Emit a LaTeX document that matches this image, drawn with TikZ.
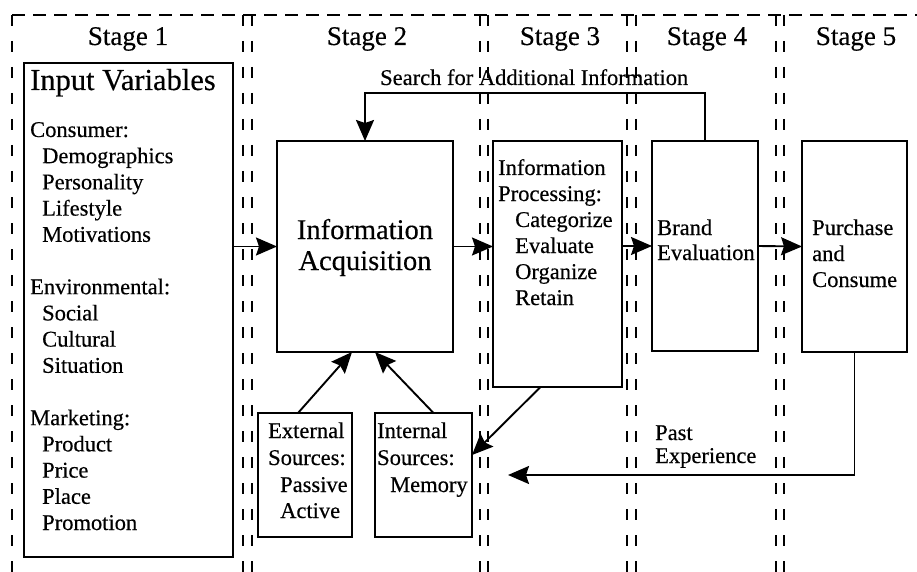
\documentclass[tikz,border=0pt]{standalone}
\usepackage{fontspec}
\setmainfont{Liberation Serif}[FakeBold=0.35]
\usetikzlibrary{arrows.meta}
\begin{document}
\begin{tikzpicture}[x=1pt,y=-1pt,
  box/.style={draw, line width=2.1pt, inner sep=0pt, outer sep=0pt, anchor=north west},
  txt/.style={anchor=base west, inner sep=0pt, font=\fontsize{22.5}{26}\selectfont},
  bigtxt/.style={anchor=base, inner sep=0pt, font=\fontsize{28.5}{32}\selectfont},
  stagelbl/.style={anchor=base, inner sep=0pt, font=\fontsize{27}{30}\selectfont},
  vdash/.style={line width=1.8pt, dash pattern=on 11pt off 15pt},
  hdash/.style={line width=1.8pt, dash pattern=on 13pt off 8pt},
  arr/.style={line width=1.9pt, -{Stealth[length=21pt,width=18pt,inset=3pt]}}]
\useasboundingbox (0,0) rectangle (917,572);
\fill[white] (0,0) rectangle (917,572);

% stage frames
\draw[hdash] (12,15) -- (917,15);
\foreach \x in {12,243,252,480,488,627,636,776,784}
  \draw[vdash] (\x,15) -- (\x,572);

% stage labels
\node[stagelbl] (s1) at (128,45) {Stage 1};
\node[stagelbl] (s2) at (367,45) {Stage 2};
\node[stagelbl] (s3) at (560,45) {Stage 3};
\node[stagelbl] (s4) at (707,45) {Stage 4};
\node[stagelbl] (s5) at (856,45) {Stage 5};

% boxes
\node[box, minimum width=209pt, minimum height=494pt] (iv) at (24,63) {};
\node[box, minimum width=176pt, minimum height=211pt] (ia) at (277,141) {};
\node[box, minimum width=129pt, minimum height=246pt] (ip) at (493,141) {};
\node[box, minimum width=106pt, minimum height=210pt] (be) at (652,141) {};
\node[box, minimum width=105pt, minimum height=211pt] (pc) at (802,141) {};
\node[box, minimum width=94pt, minimum height=124pt] (ex) at (258,413) {};
\node[box, minimum width=97pt, minimum height=124pt] (in) at (375,413) {};

% Input variables text
\node[txt, font=\fontsize{30.5}{34}\selectfont] (ivt) at (30,90) {Input Variables};
\foreach \t [count=\i from 0] in {Consumer:,\hspace*{12pt}Demographics,\hspace*{12pt}Personality,\hspace*{12pt}Lifestyle,\hspace*{12pt}Motivations,{},Environmental:,\hspace*{12pt}Social,\hspace*{12pt}Cultural,\hspace*{12pt}Situation,{},Marketing:,\hspace*{12pt}Product,\hspace*{12pt}Price,\hspace*{12pt}Place,\hspace*{12pt}Promotion}
  \node[txt] (iv\i) at (30,137+26.2*\i) {\t};

% Information acquisition
\node[bigtxt] (ia1) at (365,239) {Information};
\node[bigtxt] (ia2) at (365,270) {Acquisition};

% Information processing
\foreach \t [count=\i from 0] in {Information,Processing:,\hspace*{17pt}Categorize,\hspace*{17pt}Evaluate,\hspace*{17pt}Organize,\hspace*{17pt}Retain}
  \node[txt] (ip\i) at (498,175+26*\i) {\t};

% Brand evaluation
\node[txt] (be1) at (657,235) {Brand};
\node[txt] (be2) at (657,260) {Evaluation};

% Purchase
\node[txt] (pc1) at (812,235) {Purchase};
\node[txt] (pc2) at (812,261) {and};
\node[txt] (pc3) at (812,287) {Consume};

% External / internal sources
\node[txt] (ex1) at (268,438) {External};
\node[txt] (ex2) at (268,465) {Sources:};
\node[txt] (ex3) at (280,492) {Passive};
\node[txt] (ex4) at (280,518) {Active};
\node[txt] (in1) at (377,438) {Internal};
\node[txt] (in2) at (377,465) {Sources:};
\node[txt] (in3) at (390,492) {Memory};

% labels on connectors
\node[txt] (srch) at (380,85) {Search for Additional Information};
\node[txt] (pe1) at (655,440) {Past};
\node[txt] (pe2) at (655,463) {Experience};

% connectors
\draw[arr] (iv.east |- ia.west) -- (ia.west);
\draw[arr] (ia.east) -- (ip.west |- ia.east);
\draw[arr] (ip.east |- be.west) -- (be.west);
\draw[arr] (be.east) -- (pc.west);
\draw[arr] (be.north) -- ++(0,-48) -| (ia.north);
\draw[arr] ([xshift=-7pt]ex.north) -- ([xshift=-13pt]ia.south);
\draw[arr] ([xshift=10pt]in.north) -- ([xshift=10pt]ia.south);
\draw[arr] ([xshift=-17pt]ip.south) -- ([yshift=20pt]in.east);
\coordinate (petip) at (508,475);
\draw[arr] (pc.south) |- (petip);
\end{tikzpicture}
\end{document}
